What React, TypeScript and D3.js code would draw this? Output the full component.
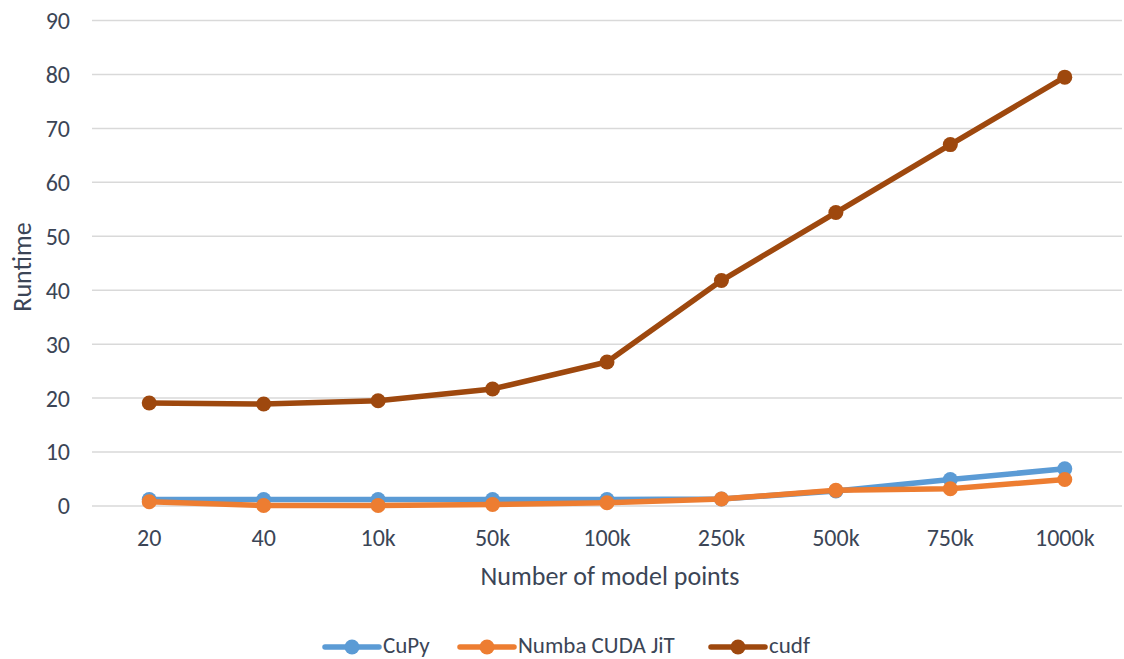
import React from "react";
import * as d3 from "d3";

const categories = ["20", "40", "10k", "50k", "100k", "250k", "500k", "750k", "1000k"];
const cupy = [1.2, 1.2, 1.2, 1.2, 1.2, 1.3, 2.8, 4.9, 6.9];
const numba = [0.8, 0.1, 0.1, 0.3, 0.6, 1.3, 2.9, 3.2, 4.9];
const cudf = [19.1, 18.9, 19.5, 21.7, 26.7, 41.8, 54.4, 67.0, 79.5];
const yTicks = [0, 10, 20, 30, 40, 50, 60, 70, 80, 90];

const seriesList = [
  { name: "CuPy", values: cupy, color: "#5b9bd5" },
  { name: "Numba CUDA JiT", values: numba, color: "#ed7d31" },
  { name: "cudf", values: cudf, color: "#9e480e" },
];

const W = 1124, H = 659;
const left = 92, right = 1122, top = 20.5, bottom = 506;
const font = "Carlito, Calibri, Lato, 'Open Sans', sans-serif";
const textColor = "#3b4556";
const legendY = 645;

export default function App() {
  const x = d3.scaleBand<string>().domain(categories).range([left, right]);
  const y = d3.scaleLinear().domain([0, 90]).range([bottom, top]);
  const line = d3.line<number>()
    .x((_, i) => (x(categories[i]) as number) + x.bandwidth() / 2)
    .y((d) => y(d));

  const legendItems = [
    { s: seriesList[0], x0: 325, tx: 383 },
    { s: seriesList[1], x0: 460, tx: 518 },
    { s: seriesList[2], x0: 711, tx: 769 },
  ];

  return (
    <svg width={W} height={H} style={{ position: "absolute", left: 0, top: 0, background: "#fff" }}>
      {yTicks.map((t) => (
        <g key={t}>
          <line x1={left} x2={right} y1={y(t)} y2={y(t)} stroke="#d9d9d9" strokeWidth={1.5} />
          <text x={70} y={y(t)} dy="0.35em" textAnchor="end" fontSize={24} fontFamily={font} fill={textColor}>{t}</text>
        </g>
      ))}
      {categories.map((c) => (
        <text key={c} x={(x(c) as number) + x.bandwidth() / 2} y={546} textAnchor="middle" fontSize={24} fontFamily={font} fill={textColor}>{c}</text>
      ))}
      <text x={610} y={585} textAnchor="middle" fontSize={26} fontFamily={font} fill={textColor}>Number of model points</text>
      <text transform="translate(31,267) rotate(-90)" textAnchor="middle" fontSize={26} fontFamily={font} fill={textColor}>Runtime</text>
      {seriesList.map((s) => (
        <g key={s.name}>
          <path d={line(s.values) || ""} fill="none" stroke={s.color} strokeWidth={5.5} strokeLinejoin="round" strokeLinecap="round" />
          {s.values.map((v, i) => (
            <circle key={i} cx={(x(categories[i]) as number) + x.bandwidth() / 2} cy={y(v)} r={7.5} fill={s.color} />
          ))}
        </g>
      ))}
      {legendItems.map(({ s, x0, tx }) => (
        <g key={s.name}>
          <line x1={x0} x2={x0 + 54} y1={legendY + 2} y2={legendY + 2} stroke={s.color} strokeWidth={5.5} strokeLinecap="round" />
          <circle cx={x0 + 27} cy={legendY + 2} r={7.5} fill={s.color} />
          <text x={tx} y={legendY} dy="0.35em" fontSize={23} fontFamily={font} fill={textColor}>{s.name}</text>
        </g>
      ))}
    </svg>
  );
}
